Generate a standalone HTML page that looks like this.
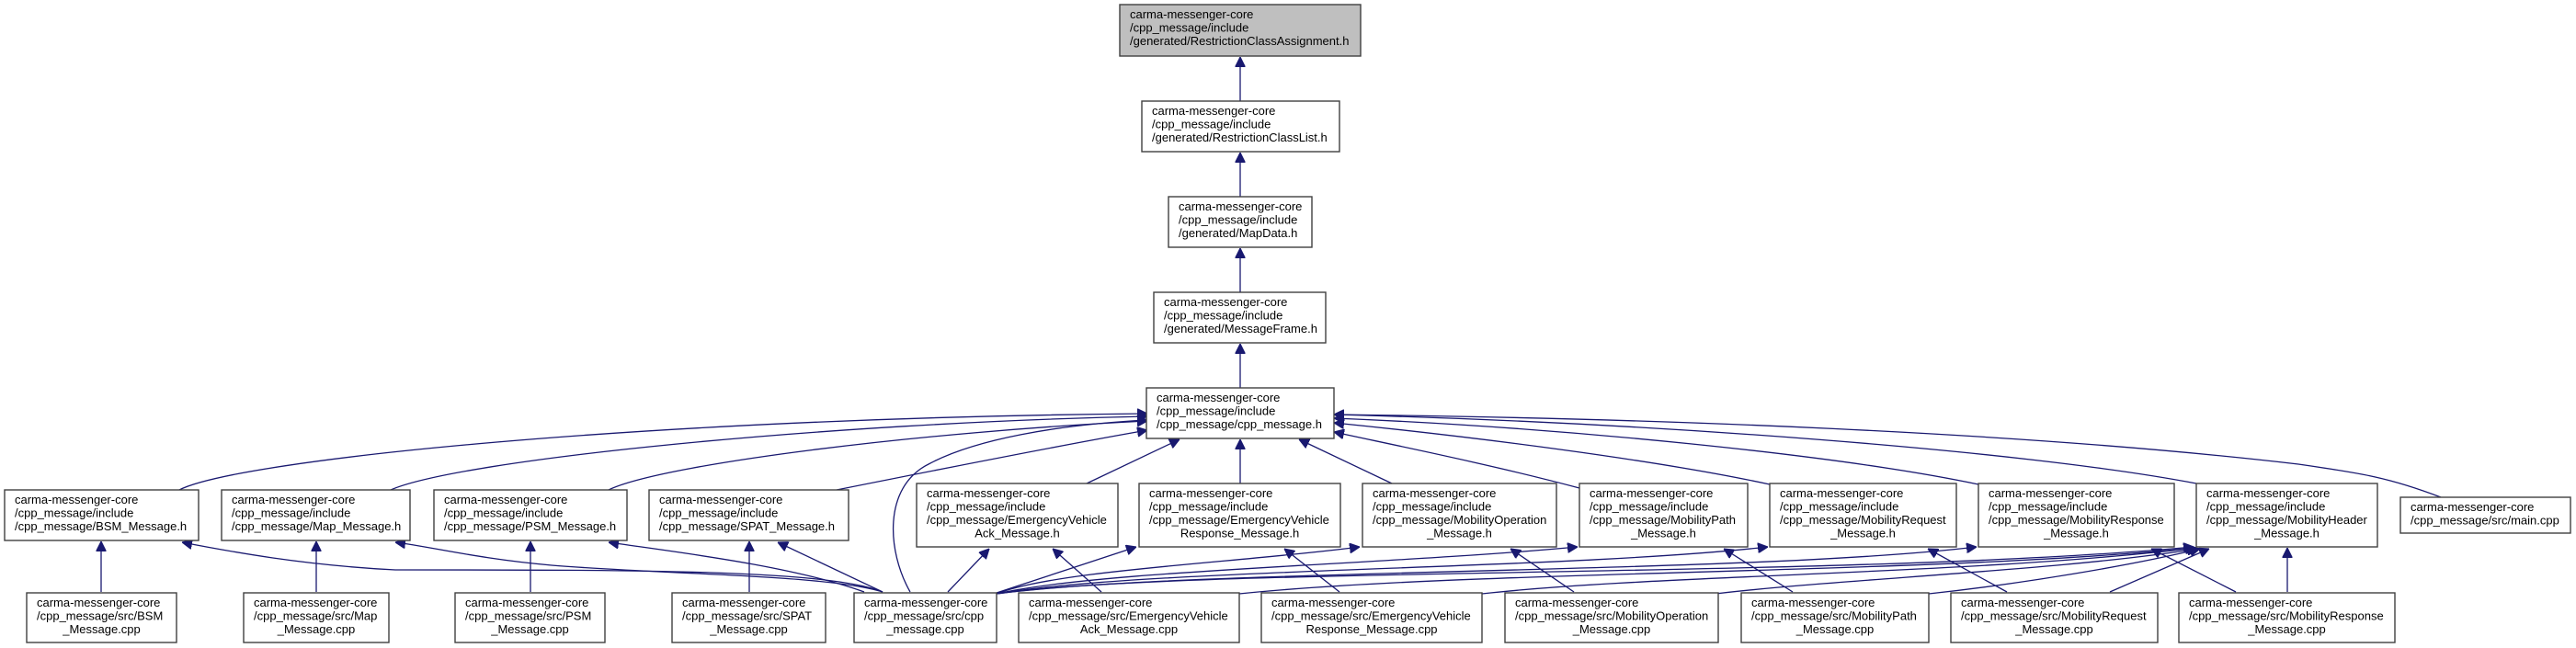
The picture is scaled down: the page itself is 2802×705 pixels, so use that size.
<!DOCTYPE html>
<html><head><meta charset="utf-8"><style>
html,body{margin:0;padding:0;background:#fff;width:2802px;height:705px;overflow:hidden}
svg{display:block}
text{font-family:"Liberation Sans",Arial,sans-serif;font-size:13px;fill:#000}
.n{fill:#fff;stroke:#404040;stroke-width:1.4}
.e{fill:none;stroke:#191970;stroke-width:1.3}
</style></head><body>
<svg width="2802" height="705" viewBox="0 0 2802 705" xmlns="http://www.w3.org/2000/svg">
<defs><marker id="a" viewBox="0 0 10 10" refX="10" refY="5" markerWidth="11" markerHeight="11" markerUnits="userSpaceOnUse" orient="auto"><path d="M0,0 L10,5 L0,10 z" fill="#191970" stroke="#191970"/></marker></defs>

<g class="edges">
<path class="e" marker-end="url(#a)" d="M1349,110 L1349,62"/>
<path class="e" marker-end="url(#a)" d="M1349,214 L1349,166"/>
<path class="e" marker-end="url(#a)" d="M1349,318 L1349,270"/>
<path class="e" marker-end="url(#a)" d="M1349,422 L1349,374"/>
<!-- headers to cpp_message.h -->
<path class="e" marker-end="url(#a)" d="M195,533 C260,500 700,455 1248,450"/>
<path class="e" marker-end="url(#a)" d="M425,533 C500,500 900,460 1248,453"/>
<path class="e" marker-end="url(#a)" d="M662,533 C720,505 1000,470 1248,458"/>
<path class="e" marker-end="url(#a)" d="M910,533 C1000,515 1150,485 1248,468"/>
<path class="e" marker-end="url(#a)" d="M990,644 C965,600 960,530 1010,505 C1060,478 1150,462 1248,457"/>
<path class="e" marker-end="url(#a)" d="M1182,526 L1283,478"/>
<path class="e" marker-end="url(#a)" d="M1349,526 L1349,478"/>
<path class="e" marker-end="url(#a)" d="M1514,526 L1413,478"/>
<path class="e" marker-end="url(#a)" d="M1718,531 C1620,505 1520,485 1451,470"/>
<path class="e" marker-end="url(#a)" d="M1925,527 C1800,500 1600,475 1451,460"/>
<path class="e" marker-end="url(#a)" d="M2152,527 C2000,495 1700,465 1451,455"/>
<path class="e" marker-end="url(#a)" d="M2389,526 C2200,490 1800,460 1451,451"/>
<path class="e" marker-end="url(#a)" d="M2655,541 C2600,520 2570,515 2500,505 C2200,470 1800,455 1451,451"/>
<!-- cpp to headers -->
<path class="e" marker-end="url(#a)" d="M110,644 L110,589"/>
<path class="e" marker-end="url(#a)" d="M344,644 L344,589"/>
<path class="e" marker-end="url(#a)" d="M577,644 L577,589"/>
<path class="e" marker-end="url(#a)" d="M815,644 L815,589"/>
<path class="e" marker-end="url(#a)" d="M960,644 C900,620 700,620 430,620 C330,615 250,600 198,590"/>
<path class="e" marker-end="url(#a)" d="M960,644 C900,625 720,625 600,615 C520,608 470,595 430,590"/>
<path class="e" marker-end="url(#a)" d="M940,644 C860,615 730,600 662,590"/>
<path class="e" marker-end="url(#a)" d="M960,644 L846,590"/>
<path class="e" marker-end="url(#a)" d="M1031,644 L1076,597"/>
<path class="e" marker-end="url(#a)" d="M1198,644 L1145,597"/>
<path class="e" marker-end="url(#a)" d="M1084,645 C1130,630 1190,610 1236,595"/>
<path class="e" marker-end="url(#a)" d="M1084,646 C1150,620 1350,612 1479,595"/>
<path class="e" marker-end="url(#a)" d="M1084,646 C1200,620 1500,615 1716,595"/>
<path class="e" marker-end="url(#a)" d="M1084,646 C1250,618 1700,620 1923,595"/>
<path class="e" marker-end="url(#a)" d="M1084,646 C1300,618 1900,625 2150,595"/>
<path class="e" marker-end="url(#a)" d="M1084,646 C1300,616 2000,630 2386,595"/>
<path class="e" marker-end="url(#a)" d="M1457,644 L1397,597"/>
<path class="e" marker-end="url(#a)" d="M1712,644 L1643,597"/>
<path class="e" marker-end="url(#a)" d="M1950,644 L1875,597"/>
<path class="e" marker-end="url(#a)" d="M2183,644 L2097,597"/>
<path class="e" marker-end="url(#a)" d="M2432,644 L2340,597"/>
<path class="e" marker-end="url(#a)" d="M2488,644 L2488,596"/>
<path class="e" marker-end="url(#a)" d="M1348,646 C1600,620 2100,625 2388,596"/>
<path class="e" marker-end="url(#a)" d="M1612,646 C1800,625 2150,625 2389,596"/>
<path class="e" marker-end="url(#a)" d="M1866,646 C2000,630 2250,620 2390,597"/>
<path class="e" marker-end="url(#a)" d="M2098,646 C2200,635 2320,615 2393,597"/>
<path class="e" marker-end="url(#a)" d="M2295,644 L2403,597"/>
</g>

<g>
<rect x="1218" y="5" width="262" height="56" fill="#bfbfbf" stroke="#404040" stroke-width="1.4"/>
<text x="1229" y="20">carma-messenger-core</text><text x="1229" y="34.5">/cpp_message/include</text><text x="1229" y="49">/generated/RestrictionClassAssignment.h</text>

<rect class="n" x="1242" y="110" width="215" height="55"/>
<text x="1253" y="125">carma-messenger-core</text><text x="1253" y="139.5">/cpp_message/include</text><text x="1253" y="154">/generated/RestrictionClassList.h</text>

<rect class="n" x="1271" y="214" width="156" height="55"/>
<text x="1282" y="229">carma-messenger-core</text><text x="1282" y="243.5">/cpp_message/include</text><text x="1282" y="258">/generated/MapData.h</text>

<rect class="n" x="1255" y="318" width="187" height="55"/>
<text x="1266" y="333">carma-messenger-core</text><text x="1266" y="347.5">/cpp_message/include</text><text x="1266" y="362">/generated/MessageFrame.h</text>

<rect class="n" x="1247" y="422" width="204" height="55"/>
<text x="1258" y="437">carma-messenger-core</text><text x="1258" y="451.5">/cpp_message/include</text><text x="1258" y="466">/cpp_message/cpp_message.h</text>

<!-- row 2 three-line -->
<rect class="n" x="5" y="533" width="211" height="55"/>
<text x="16" y="548">carma-messenger-core</text><text x="16" y="562.5">/cpp_message/include</text><text x="16" y="577">/cpp_message/BSM_Message.h</text>
<rect class="n" x="241" y="533" width="205" height="55"/>
<text x="252" y="548">carma-messenger-core</text><text x="252" y="562.5">/cpp_message/include</text><text x="252" y="577">/cpp_message/Map_Message.h</text>
<rect class="n" x="472" y="533" width="210" height="55"/>
<text x="483" y="548">carma-messenger-core</text><text x="483" y="562.5">/cpp_message/include</text><text x="483" y="577">/cpp_message/PSM_Message.h</text>
<rect class="n" x="706" y="533" width="217" height="55"/>
<text x="717" y="548">carma-messenger-core</text><text x="717" y="562.5">/cpp_message/include</text><text x="717" y="577">/cpp_message/SPAT_Message.h</text>

<!-- row 2 four-line -->
<rect class="n" x="997" y="526" width="219" height="69"/>
<text x="1008" y="541">carma-messenger-core</text><text x="1008" y="555.5">/cpp_message/include</text><text x="1008" y="570">/cpp_message/EmergencyVehicle</text><text x="1106.5" y="584.5" text-anchor="middle">Ack_Message.h</text>
<rect class="n" x="1239" y="526" width="219" height="69"/>
<text x="1250" y="541">carma-messenger-core</text><text x="1250" y="555.5">/cpp_message/include</text><text x="1250" y="570">/cpp_message/EmergencyVehicle</text><text x="1348.5" y="584.5" text-anchor="middle">Response_Message.h</text>
<rect class="n" x="1482" y="526" width="211" height="69"/>
<text x="1493" y="541">carma-messenger-core</text><text x="1493" y="555.5">/cpp_message/include</text><text x="1493" y="570">/cpp_message/MobilityOperation</text><text x="1587.5" y="584.5" text-anchor="middle">_Message.h</text>
<rect class="n" x="1718" y="526" width="183" height="69"/>
<text x="1729" y="541">carma-messenger-core</text><text x="1729" y="555.5">/cpp_message/include</text><text x="1729" y="570">/cpp_message/MobilityPath</text><text x="1809.5" y="584.5" text-anchor="middle">_Message.h</text>
<rect class="n" x="1925" y="526" width="203" height="69"/>
<text x="1936" y="541">carma-messenger-core</text><text x="1936" y="555.5">/cpp_message/include</text><text x="1936" y="570">/cpp_message/MobilityRequest</text><text x="2026.5" y="584.5" text-anchor="middle">_Message.h</text>
<rect class="n" x="2152" y="526" width="213" height="69"/>
<text x="2163" y="541">carma-messenger-core</text><text x="2163" y="555.5">/cpp_message/include</text><text x="2163" y="570">/cpp_message/MobilityResponse</text><text x="2258.5" y="584.5" text-anchor="middle">_Message.h</text>
<rect class="n" x="2389" y="526" width="197" height="69"/>
<text x="2400" y="541">carma-messenger-core</text><text x="2400" y="555.5">/cpp_message/include</text><text x="2400" y="570">/cpp_message/MobilityHeader</text><text x="2487.5" y="584.5" text-anchor="middle">_Message.h</text>
<rect class="n" x="2611" y="541" width="185" height="39"/>
<text x="2622" y="556">carma-messenger-core</text><text x="2622" y="570.5">/cpp_message/src/main.cpp</text>

<!-- bottom row -->
<rect class="n" x="29" y="645" width="163" height="54"/>
<text x="40" y="660">carma-messenger-core</text><text x="40" y="674.5">/cpp_message/src/BSM</text><text x="110.5" y="689" text-anchor="middle">_Message.cpp</text>
<rect class="n" x="265" y="645" width="158" height="54"/>
<text x="276" y="660">carma-messenger-core</text><text x="276" y="674.5">/cpp_message/src/Map</text><text x="344" y="689" text-anchor="middle">_Message.cpp</text>
<rect class="n" x="495" y="645" width="163" height="54"/>
<text x="506" y="660">carma-messenger-core</text><text x="506" y="674.5">/cpp_message/src/PSM</text><text x="576.5" y="689" text-anchor="middle">_Message.cpp</text>
<rect class="n" x="731" y="645" width="167" height="54"/>
<text x="742" y="660">carma-messenger-core</text><text x="742" y="674.5">/cpp_message/src/SPAT</text><text x="814.5" y="689" text-anchor="middle">_Message.cpp</text>
<rect class="n" x="929" y="645" width="155" height="54"/>
<text x="940" y="660">carma-messenger-core</text><text x="940" y="674.5">/cpp_message/src/cpp</text><text x="1006.5" y="689" text-anchor="middle">_message.cpp</text>
<rect class="n" x="1108" y="645" width="240" height="54"/>
<text x="1119" y="660">carma-messenger-core</text><text x="1119" y="674.5">/cpp_message/src/EmergencyVehicle</text><text x="1228" y="689" text-anchor="middle">Ack_Message.cpp</text>
<rect class="n" x="1372" y="645" width="240" height="54"/>
<text x="1383" y="660">carma-messenger-core</text><text x="1383" y="674.5">/cpp_message/src/EmergencyVehicle</text><text x="1492" y="689" text-anchor="middle">Response_Message.cpp</text>
<rect class="n" x="1637" y="645" width="232" height="54"/>
<text x="1648" y="660">carma-messenger-core</text><text x="1648" y="674.5">/cpp_message/src/MobilityOperation</text><text x="1753" y="689" text-anchor="middle">_Message.cpp</text>
<rect class="n" x="1894" y="645" width="204" height="54"/>
<text x="1905" y="660">carma-messenger-core</text><text x="1905" y="674.5">/cpp_message/src/MobilityPath</text><text x="1996" y="689" text-anchor="middle">_Message.cpp</text>
<rect class="n" x="2122" y="645" width="225" height="54"/>
<text x="2133" y="660">carma-messenger-core</text><text x="2133" y="674.5">/cpp_message/src/MobilityRequest</text><text x="2234.5" y="689" text-anchor="middle">_Message.cpp</text>
<rect class="n" x="2370" y="645" width="235" height="54"/>
<text x="2381" y="660">carma-messenger-core</text><text x="2381" y="674.5">/cpp_message/src/MobilityResponse</text><text x="2487.5" y="689" text-anchor="middle">_Message.cpp</text>
</g>
</svg>
</body></html>
